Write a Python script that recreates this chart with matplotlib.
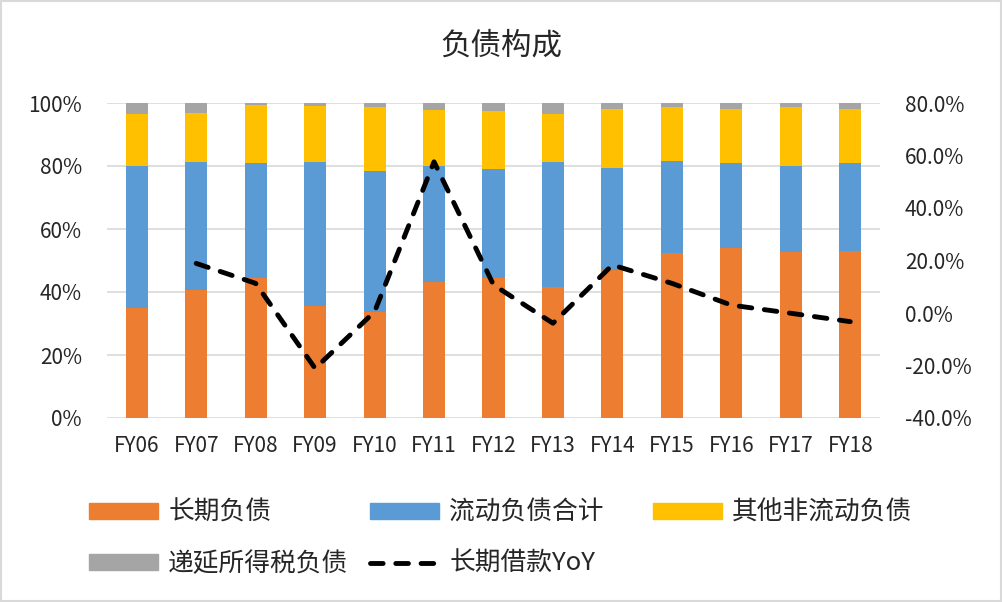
import matplotlib.pyplot as plt
from matplotlib.ticker import FuncFormatter
from matplotlib.patches import Patch
from matplotlib.lines import Line2D
import numpy as np

plt.rcParams['font.family'] = ['Noto Sans CJK SC', 'DejaVu Sans']

years = ["FY06", "FY07", "FY08", "FY09", "FY10", "FY11", "FY12",
         "FY13", "FY14", "FY15", "FY16", "FY17", "FY18"]

# shares of total liabilities (%)
long_term = [34.9, 40.6, 44.3, 35.6, 33.8, 43.3, 44.5, 41.7, 47.0, 52.3, 53.9, 52.6, 53.1]
current = [45.1, 40.8, 36.8, 45.8, 44.6, 36.7, 34.4, 39.7, 32.3, 29.4, 27.0, 27.5, 27.8]
other_noncurrent = [16.5, 15.5, 18.3, 17.6, 20.4, 17.8, 18.7, 15.0, 18.8, 16.9, 17.2, 18.5, 17.2]
deferred_tax = [3.5, 3.1, 0.6, 1.0, 1.2, 2.2, 2.4, 3.6, 1.9, 1.4, 1.9, 1.4, 1.9]

# 长期借款 YoY (%), starts FY07
loan_yoy = [None, 18.9, 11.3, -21.1, 0.5, 57.6, 10.7, -3.9, 18.3, 11.3, 3.0, -0.1, -3.3]

c_orange = "#ED7D31"
c_blue = "#5B9BD5"
c_yellow = "#FFC000"
c_gray = "#A5A5A5"
txt = "#262626"

W, H = 1002, 602
fig = plt.figure(figsize=(W / 100, H / 100), dpi=100)
ax = fig.add_axes([107 / W, 1 - 418 / H, (880 - 107) / W, (418 - 103) / H])

x = np.arange(len(years))
w = 0.37
b1 = np.array(long_term)
b2 = b1 + np.array(current)
b3 = b2 + np.array(other_noncurrent)
ax.bar(x, long_term, w, color=c_orange, zorder=2)
ax.bar(x, current, w, bottom=b1, color=c_blue, zorder=2)
ax.bar(x, other_noncurrent, w, bottom=b2, color=c_yellow, zorder=2)
ax.bar(x, deferred_tax, w, bottom=b3, color=c_gray, zorder=2)

ax.set_xlim(-0.5, len(years) - 0.5)
ax.set_ylim(0, 100)
ax.set_yticks(range(0, 101, 20))
ax.yaxis.set_major_formatter(FuncFormatter(lambda v, p: f"{v:.0f}%"))
ax.set_xticks(x)
ax.set_xticklabels(years)
ax.grid(axis='y', color="#d9d9d9", linewidth=1.2, zorder=0)
for s in ax.spines.values():
    s.set_visible(False)
ax.tick_params(length=0, labelsize=15, colors=txt)
ax.tick_params(axis='y', pad=18)
ax.tick_params(axis='x', pad=12)

dash = dict(color="black", linewidth=3.5, dashes=(2.6, 2.6), dash_capstyle='round')

ax2 = ax.twinx()
ax2.set_ylim(-40, 80)
ax2.set_yticks(range(-40, 81, 20))
ax2.yaxis.set_major_formatter(FuncFormatter(lambda v, p: f"{v:.1f}%"))
xs = [i for i, v in enumerate(loan_yoy) if v is not None]
ys = [v for v in loan_yoy if v is not None]
ax2.plot(xs, ys, zorder=3, **dash)
for s in ax2.spines.values():
    s.set_visible(False)
ax2.tick_params(length=0, labelsize=15, colors=txt, pad=18)

fig.text(0.5, 1 - 46 / H, "负债构成", ha='center', va='center', fontsize=22, color=txt)

# legend: three columns placed like the Excel legend
cols = [
    (89, [Patch(color=c_orange, label="长期负债"), Patch(color=c_gray, label="递延所得税负债")]),
    (370, [Patch(color=c_blue, label="流动负债合计"), Line2D([0], [0], label="长期借款YoY", **dash)]),
    (653, [Patch(color=c_yellow, label="其他非流动负债")]),
]
for xpos, hs in cols:
    fig.legend(handles=hs, loc='upper left', bbox_to_anchor=(xpos / W, 1 - 500 / H),
               frameon=False, fontsize=18.5, handlelength=2.7, handleheight=0.55,
               labelspacing=0.98, handletextpad=0.38, borderpad=0, borderaxespad=0,
               labelcolor=txt)

border = plt.Rectangle((0.001, 0.001), 0.998, 0.998, transform=fig.transFigure,
                       fill=False, edgecolor="#d9d9d9", linewidth=1.5)
fig.patches.append(border)

fig.savefig("out.png", dpi=100)
